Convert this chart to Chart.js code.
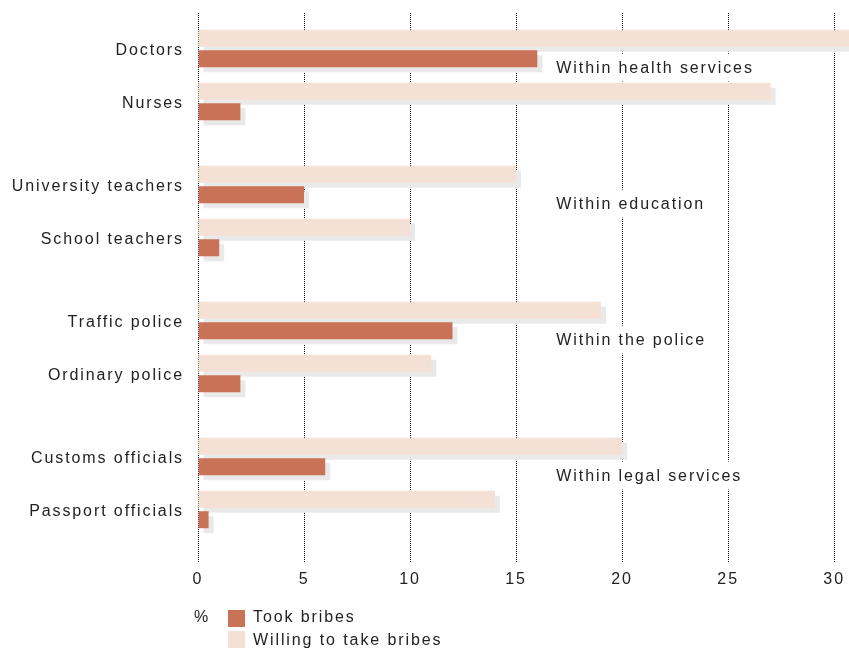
<!DOCTYPE html>
<html>
<head>
<meta charset="utf-8">
<script src="https://cdn.jsdelivr.net/npm/chart.js"></script>
<style>
  html, body { margin: 0; padding: 0; background: #fff; }
  #wrap { position: relative; width: 849px; height: 649px; overflow: hidden; }
  .leg { position: absolute; font: 16px "Liberation Sans", Arial, sans-serif; line-height: 18px; letter-spacing: 1.9px; color: #222; white-space: nowrap; }
  .sw { position: absolute; width: 17px; height: 17px; }
</style>
</head>
<body>
<div id="wrap">
  <canvas id="chart" width="849" height="649"></canvas>
  <div id="legend"></div>
</div>
<script>
// rows (top to bottom) and the group each belongs to
const labels = ["Doctors", "Nurses", "University teachers", "School teachers",
  "Traffic police", "Ordinary police", "Customs officials", "Passport officials"];
const groupOf = [0, 0, 1, 1, 2, 2, 3, 3];
const groupNames = ["Within health services", "Within education", "Within the police", "Within legal services"];

// % of respondents
const tookBribes = [16, 2, 5, 1, 12, 2, 6, 0.5];
const willingToTake = [31, 27, 15, 10, 19, 11, 20, 14];

const xTicks = [0, 5, 10, 15, 20, 25, 30];

const TOOK_COLOR = "#c97257";
const WILLING_COLOR = "#f5e0d5";
const SHADOW_COLOR = "#e9e9e9";
const TEXT_COLOR = "#222";
const FONT = '"Liberation Sans", Arial, sans-serif';
const FONT_SIZE = 16;
const LS = "1.9px";

// extra space between groups, in row units
const GROUP_GAP = 0.566;
const rowPos = i => i + groupOf[i] * GROUP_GAP;

// legend (html)
const legend = document.getElementById("legend");
legend.innerHTML =
  '<div class="leg" style="left:194px;top:608px">%</div>' +
  '<div class="sw" style="left:228px;top:610px;background:' + TOOK_COLOR + '"></div>' +
  '<div class="leg" style="left:253px;top:608px">Took bribes</div>' +
  '<div class="sw" style="left:228px;top:631px;background:' + WILLING_COLOR + '"></div>' +
  '<div class="leg" style="left:253px;top:631px">Willing to take bribes</div>';

const spacingPlugin = {
  id: "spacing",
  beforeUpdate(chart) { chart.ctx.letterSpacing = LS; },
  beforeDraw(chart) { chart.ctx.letterSpacing = LS; }
};

// flat grey offset shadow behind every bar, drawn before any bar
const shadowPlugin = {
  id: "barShadow",
  beforeDatasetsDraw(chart) {
    const { ctx, chartArea: a } = chart;
    ctx.save();
    ctx.beginPath();
    ctx.rect(a.left, a.top, a.right - a.left, a.bottom - a.top);
    ctx.clip();
    ctx.fillStyle = SHADOW_COLOR;
    chart.data.datasets.forEach((ds, di) => {
      chart.getDatasetMeta(di).data.forEach(bar => {
        const { x, y, base, height } = bar.getProps(["x", "y", "base", "height"], true);
        const left = Math.min(x, base), w = Math.abs(x - base);
        ctx.fillRect(left + 5, y - height / 2 + 5, w, height);
      });
    });
    ctx.restore();
  }
};

// group captions on white boxes, over the grid
const groupLabelPlugin = {
  id: "groupLabels",
  beforeDatasetsDraw(chart) {
    const { ctx, scales: { x, y } } = chart;
    ctx.save();
    ctx.letterSpacing = LS;
    ctx.font = FONT_SIZE + "px " + FONT;
    ctx.textAlign = "left";
    ctx.textBaseline = "middle";
    groupNames.forEach((name, g) => {
      const first = groupOf.indexOf(g);
      const px = x.getPixelForValue(16.9);
      const py = y.getPixelForValue(rowPos(first) + 0.36);
      const w = ctx.measureText(name).width;
      ctx.fillStyle = "#fff";
      ctx.fillRect(px - 8, py - 14, w + 16, 28);
      ctx.fillStyle = TEXT_COLOR;
      ctx.fillText(name, px, py + 1);
    });
    ctx.restore();
  }
};

new Chart(document.getElementById("chart"), {
  type: "bar",
  data: {
    datasets: [
      {
        label: "Willing to take bribes",
        data: willingToTake.map((v, i) => ({ x: v, y: rowPos(i) })),
        backgroundColor: WILLING_COLOR
      },
      {
        label: "Took bribes",
        data: tookBribes.map((v, i) => ({ x: v, y: rowPos(i) })),
        backgroundColor: TOOK_COLOR
      }
    ]
  },
  options: {
    indexAxis: "y",
    responsive: false,
    animation: false,
    categoryPercentage: 0.774,
    barPercentage: 0.83,
    layout: { padding: { top: 13, left: 0, right: 0, bottom: 0 } },
    plugins: {
      legend: { display: false },
      tooltip: { enabled: false }
    },
    scales: {
      x: {
        type: "linear",
        position: "bottom",
        min: 0,
        max: 30.7,
        afterBuildTicks: s => { s.ticks = xTicks.map(v => ({ value: v })); },
        afterFit: s => { s.height = 86; s.paddingLeft = 0; s.paddingRight = 0; },
        grid: { color: "#000", lineWidth: 1, drawTicks: false },
        border: { display: false, dash: [1, 1] },
        ticks: {
          color: TEXT_COLOR,
          font: { family: FONT, size: FONT_SIZE },
          padding: 7,
          maxRotation: 0,
          autoSkip: false
        }
      },
      y: {
        type: "linear",
        reverse: true,
        offset: false,
        min: -0.67,
        max: 9.708,
        afterBuildTicks: s => { s.ticks = labels.map((_, i) => ({ value: rowPos(i) })); },
        afterFit: s => { s.width = 198; s.paddingTop = 0; s.paddingBottom = 0; },
        grid: { display: false, drawTicks: false, offset: false },
        border: { display: false },
        ticks: {
          color: TEXT_COLOR,
          font: { family: FONT, size: FONT_SIZE },
          padding: 14,
          labelOffset: 2,
          autoSkip: false,
          callback: (v, i) => labels[i]
        }
      }
    }
  },
  plugins: [spacingPlugin, shadowPlugin, groupLabelPlugin]
});
</script>
</body>
</html>
